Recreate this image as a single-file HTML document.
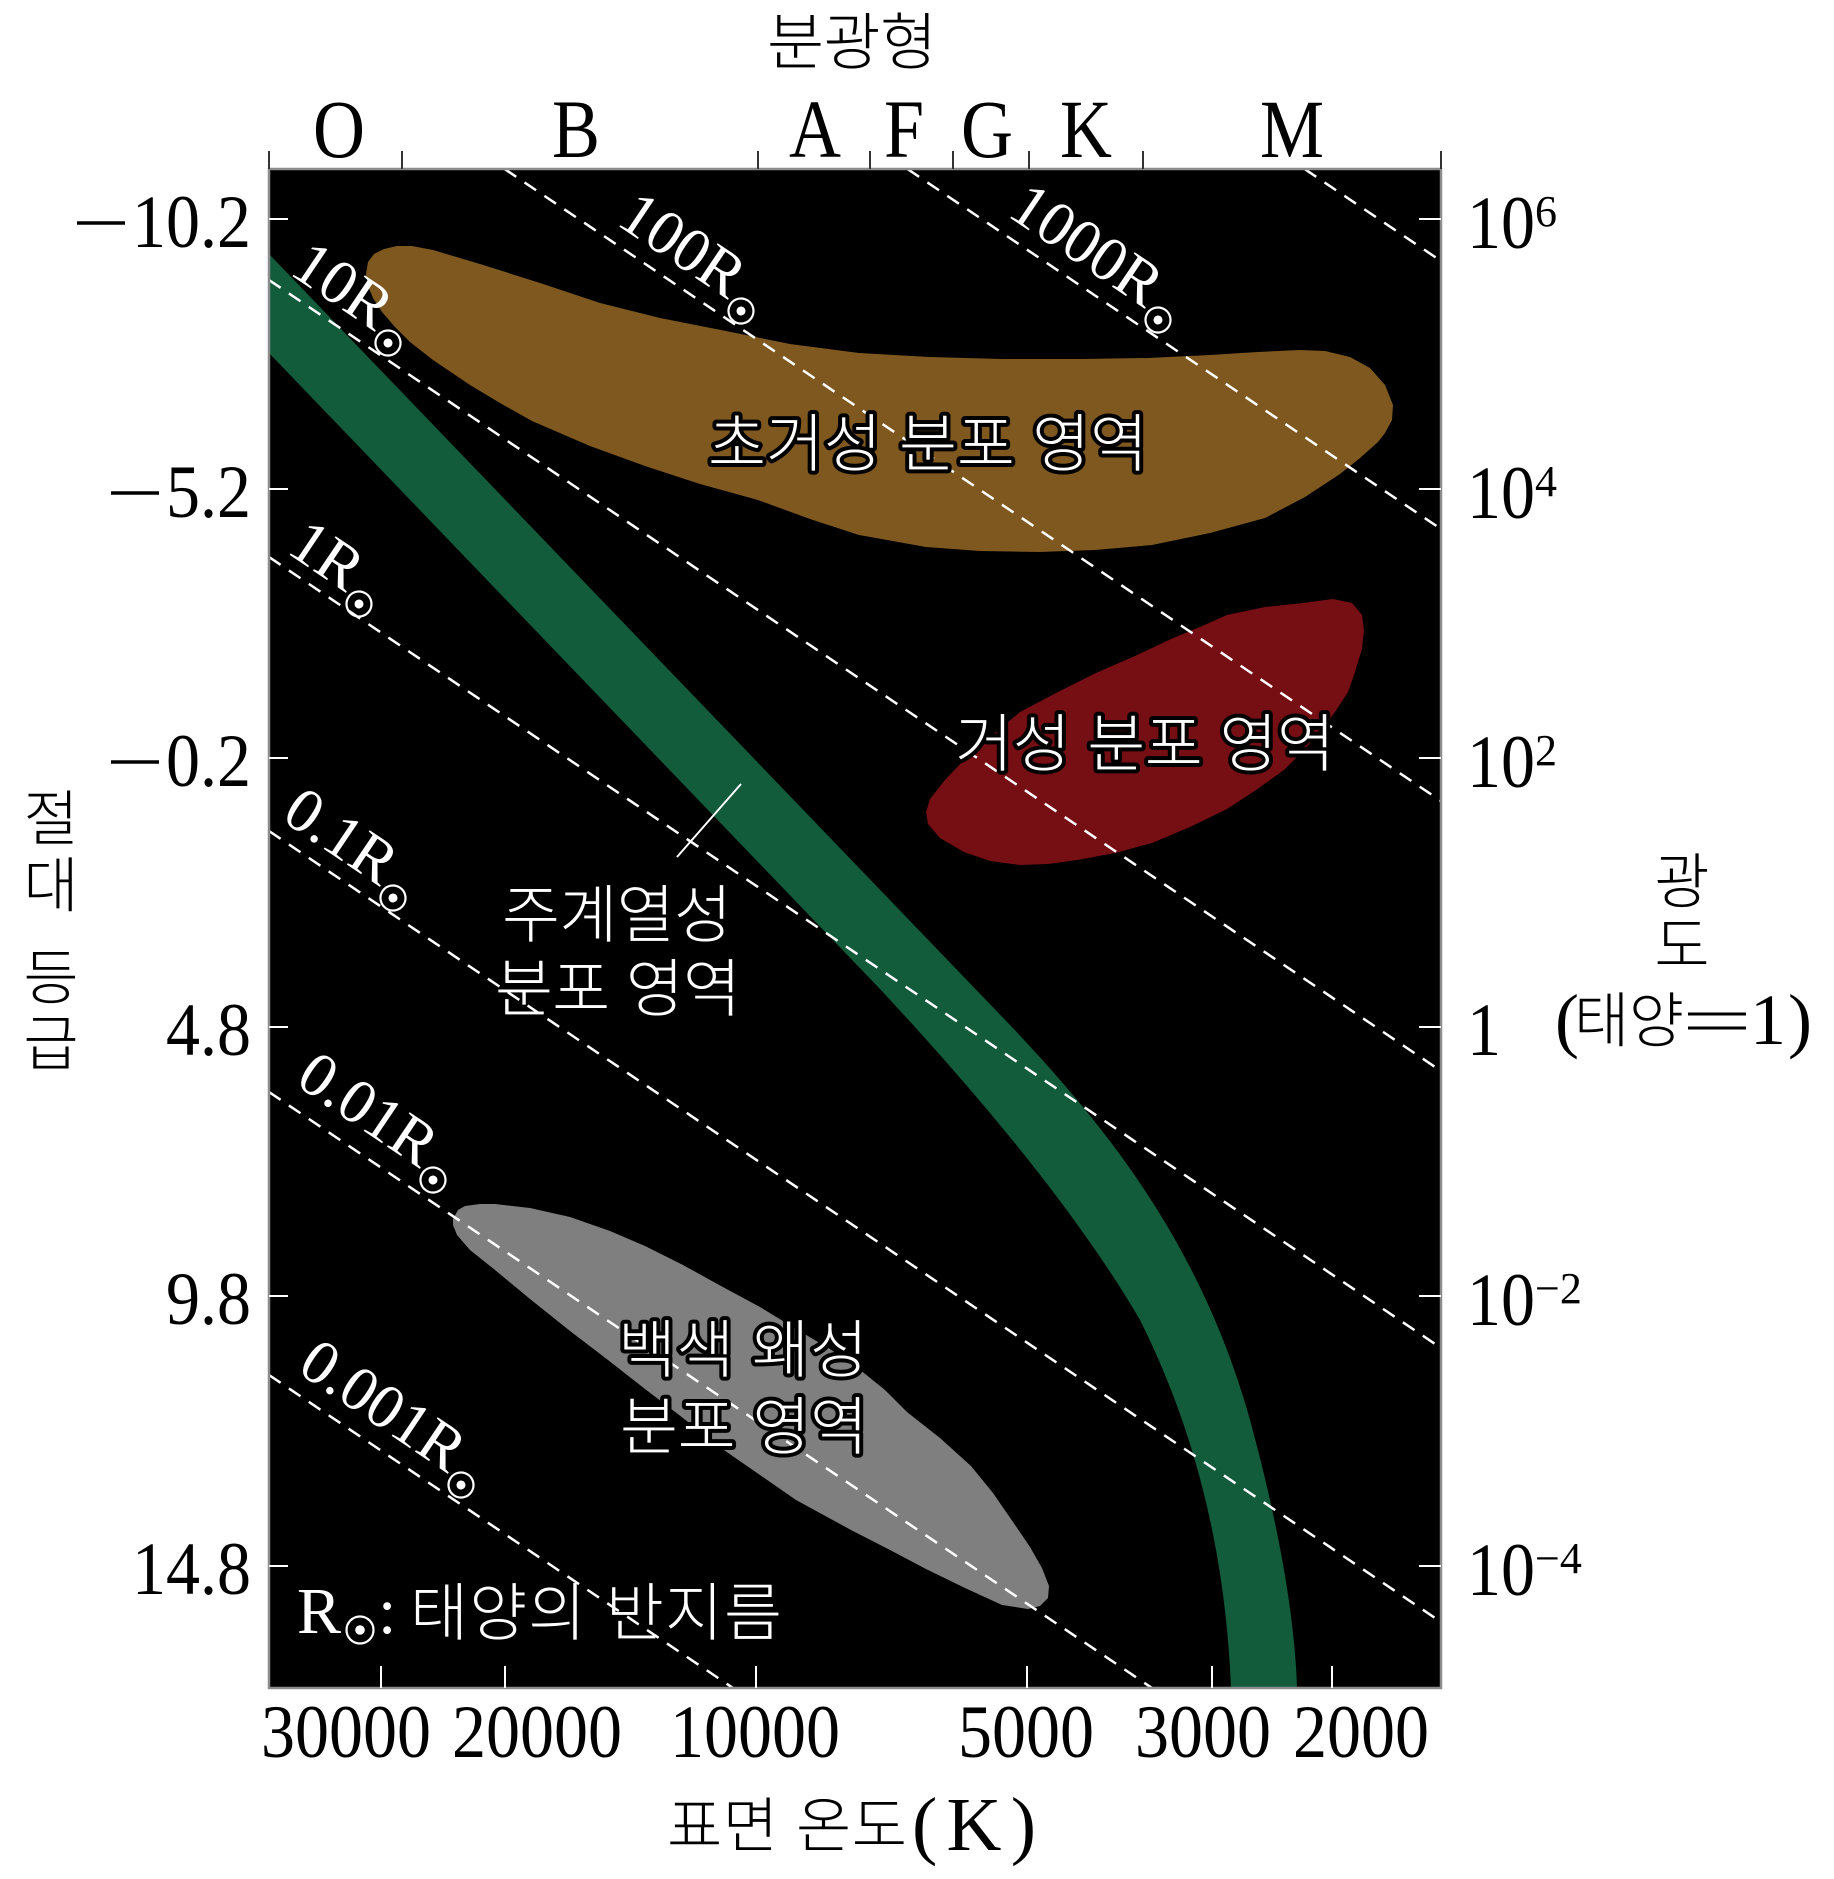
<!DOCTYPE html>
<html><head><meta charset="utf-8">
<style>
html,body{margin:0;padding:0;background:#fff;width:1834px;height:1879px;overflow:hidden;}
svg{display:block;}
.ser{font-family:"Liberation Serif","DejaVu Serif",serif;}
.kr{font-family:"Liberation Sans","Noto Sans CJK KR","NanumGothic",sans-serif;font-weight:300;}
.ol{paint-order:stroke;stroke:#000;stroke-width:8;stroke-linejoin:round;}
</style></head>
<body>
<svg width="1834" height="1879" viewBox="0 0 1834 1879" xmlns="http://www.w3.org/2000/svg">
<defs><clipPath id="pc"><rect x="269" y="169" width="1172" height="1519"/></clipPath></defs>
<rect width="1834" height="1879" fill="#fff"/>
<rect x="269" y="169" width="1172" height="1519" fill="#000"/>

<g clip-path="url(#pc)">
  <path fill="#7f5820" d="M366,274 L368,262 L374,254 L384,249 L397,246 L412,246 L433,250 L480,264 L540,283 L600,303 L660,318 L721,330 L790,344 L859,353 L930,357 L1002,359 L1080,359 L1148,358 L1210,355 L1258,352 L1300,350 L1325,351 L1350,357 L1370,368 L1385,385 L1393,405 L1392,420 L1385,433 L1378,442 L1360,458 L1340,474 L1305,497 L1265,518 L1210,533 L1152,545 L1095,550 L1039,552 L980,551 L926,547 L859,535 L810,519 L758,500 L700,484 L645,466 L590,446 L532,421 L500,403 L470,385 L433,360 L410,342 L395,327 L382,312 L373,298 L368,286 Z"/>
  <path fill="#760f13" d="M1333,599 L1352,603 L1362,615 L1364,630 L1362,649 L1355,672 L1348,692 L1335,712 L1321,731 L1303,751 L1284,770 L1256,790 L1227,809 L1190,827 L1152,843 L1115,853 L1077,860 L1048,864 L1020,865 L990,861 L964,852 L940,838 L928,824 L926,812 L930,799 L945,780 L964,760 L990,737 L1020,712 L1058,692 L1096,673 L1135,656 L1171,639 L1200,627 L1227,615 L1265,607 L1303,603 Z"/>
  <path fill="#7f7f7f" d="M453,1219 L458,1210 L465,1206 L480,1204 L495,1204 L530,1208 L570,1217 L610,1231 L645,1246 L683,1265 L721,1286 L760,1307 L796,1329 L830,1349 L859,1369 L885,1390 L907,1412 L940,1438 L971,1466 L993,1493 L1013,1522 L1030,1547 L1042,1568 L1049,1586 L1048,1598 L1040,1606 L1028,1609 L1002,1605 L965,1588 L926,1569 L890,1550 L851,1530 L796,1500 L760,1475 L721,1448 L683,1418 L645,1389 L608,1360 L570,1331 L530,1299 L495,1270 L470,1250 L457,1235 L453,1225 Z"/>
  <path fill="#125b3b" d="M269,254 L1010,1025 C1100,1120 1200,1240 1250,1420 C1280,1530 1295,1620 1297,1688 L1231,1688 C1225,1540 1190,1420 1140,1320 C1070,1200 960,1075 880,989 L269,353 Z"/>
  <g stroke="#fff" stroke-width="2.5" stroke-dasharray="14 10">
    <line x1="1304.6" y1="169" x2="1441" y2="261"/>
    <line x1="907.5" y1="169" x2="1441" y2="529"/>
    <line x1="504.6" y1="169" x2="1441" y2="801"/>
    <line x1="269" y1="280" x2="1441" y2="1071"/>
    <line x1="269" y1="557" x2="1441" y2="1348"/>
    <line x1="269" y1="831" x2="1441" y2="1622"/>
    <line x1="269" y1="1092" x2="1152" y2="1688"/>
    <line x1="269" y1="1375" x2="733" y2="1688"/>
  </g>
</g>

<g class="ser" fill="#fff" font-size="63">
  <g transform="translate(388,343) rotate(34)"><text x="-17" y="-2" text-anchor="end">10R</text><circle r="12.5" fill="none" stroke="#fff" stroke-width="2.2"/><circle r="4.5"/></g>
  <g transform="translate(741,311) rotate(34)"><text x="-17" y="-2" text-anchor="end">100R</text><circle r="12.5" fill="none" stroke="#fff" stroke-width="2.2"/><circle r="4.5"/></g>
  <g transform="translate(1158,320) rotate(34)"><text x="-17" y="-2" text-anchor="end">1000R</text><circle r="12.5" fill="none" stroke="#fff" stroke-width="2.2"/><circle r="4.5"/></g>
  <g transform="translate(359,604) rotate(34)"><text x="-17" y="-2" text-anchor="end">1R</text><circle r="12.5" fill="none" stroke="#fff" stroke-width="2.2"/><circle r="4.5"/></g>
  <g transform="translate(393,898) rotate(34)"><text x="-17" y="-2" text-anchor="end">0.1R</text><circle r="12.5" fill="none" stroke="#fff" stroke-width="2.2"/><circle r="4.5"/></g>
  <g transform="translate(433,1180) rotate(34)"><text x="-17" y="-2" text-anchor="end">0.01R</text><circle r="12.5" fill="none" stroke="#fff" stroke-width="2.2"/><circle r="4.5"/></g>
  <g transform="translate(461,1485) rotate(34)"><text x="-17" y="-2" text-anchor="end">0.001R</text><circle r="12.5" fill="none" stroke="#fff" stroke-width="2.2"/><circle r="4.5"/></g>
</g>

<g class="kr" fill="#fff" font-size="63" text-anchor="middle">
  <text class="ol" x="928" y="466" textLength="440">초거성 분포 영역</text>
  <text class="ol" x="1145" y="766" textLength="380">거성 분포 영역</text>
  <text x="617" y="937" textLength="230">주계열성</text>
  <text x="618" y="1011" textLength="246">분포 영역</text>
  <text class="ol" x="743" y="1372" textLength="250">백색 왜성</text>
  <text class="ol" x="744" y="1449" textLength="248">분포 영역</text>
</g>
<line x1="677" y1="857" x2="741" y2="784" stroke="#fff" stroke-width="2"/>

<text class="ser" x="297" y="1633" font-size="66" fill="#fff">R</text>
<circle cx="360" cy="1630" r="13.5" fill="none" stroke="#fff" stroke-width="2.2"/>
<circle cx="360" cy="1630" r="4.8" fill="#fff"/>
<text class="ser" x="378" y="1633" font-size="66" fill="#fff">:</text>
<text class="kr" x="410" y="1635" font-size="63" fill="#fff" textLength="372">태양의 반지름</text>

<rect x="269" y="169" width="1172" height="1519" fill="none" stroke="#8c8c8c" stroke-width="2.5"/>

<g stroke="#fff" stroke-width="2">
  <line x1="269" y1="219" x2="288" y2="219"/><line x1="269" y1="489" x2="288" y2="489"/>
  <line x1="269" y1="758" x2="288" y2="758"/><line x1="269" y1="1027" x2="288" y2="1027"/>
  <line x1="269" y1="1296" x2="288" y2="1296"/><line x1="269" y1="1566" x2="288" y2="1566"/>
  <line x1="1419" y1="219" x2="1441" y2="219"/><line x1="1419" y1="489" x2="1441" y2="489"/>
  <line x1="1419" y1="758" x2="1441" y2="758"/><line x1="1419" y1="1027" x2="1441" y2="1027"/>
  <line x1="1419" y1="1296" x2="1441" y2="1296"/><line x1="1419" y1="1566" x2="1441" y2="1566"/>
  <line x1="381" y1="1666" x2="381" y2="1688"/><line x1="505" y1="1666" x2="505" y2="1688"/>
  <line x1="756" y1="1666" x2="756" y2="1688"/><line x1="1027" y1="1666" x2="1027" y2="1688"/>
  <line x1="1212" y1="1666" x2="1212" y2="1688"/><line x1="1332" y1="1666" x2="1332" y2="1688"/>
</g>
<g stroke="#333" stroke-width="2">
  <line x1="269" y1="151" x2="269" y2="169"/><line x1="402" y1="151" x2="402" y2="169"/>
  <line x1="758" y1="151" x2="758" y2="169"/><line x1="870" y1="151" x2="870" y2="169"/>
  <line x1="953" y1="151" x2="953" y2="169"/><line x1="1029" y1="151" x2="1029" y2="169"/>
  <line x1="1143" y1="151" x2="1143" y2="169"/><line x1="1441" y1="151" x2="1441" y2="169"/>
</g>

<g class="ser" font-size="72" fill="#000" text-anchor="middle">
  <text transform="translate(339,157) scale(1,1.15)">O</text>
  <text transform="translate(576,157) scale(1,1.15)">B</text>
  <text transform="translate(815,157) scale(1,1.15)">A</text>
  <text transform="translate(904,157) scale(1,1.15)">F</text>
  <text transform="translate(987,157) scale(1,1.15)">G</text>
  <text transform="translate(1086,157) scale(1,1.15)">K</text>
  <text transform="translate(1292,157) scale(1,1.15)">M</text>
</g>

<g class="ser" font-size="68" fill="#000" text-anchor="end">
  <text transform="translate(251,247) scale(1,1.1)">10.2</text>
  <text transform="translate(251,517) scale(1,1.1)">5.2</text>
  <text transform="translate(251,786) scale(1,1.1)">0.2</text>
  <text transform="translate(251,1055) scale(1,1.1)">4.8</text>
  <text transform="translate(251,1324) scale(1,1.1)">9.8</text>
  <text transform="translate(251,1594) scale(1,1.1)">14.8</text>
</g>
<g stroke="#000" stroke-width="3.5">
  <line x1="77" y1="223" x2="125" y2="223"/>
  <line x1="111" y1="493" x2="159" y2="493"/>
  <line x1="111" y1="762" x2="159" y2="762"/>
</g>

<g class="ser" fill="#000">
  <g font-size="68">
    <text transform="translate(1467,248) scale(1,1.1)">10</text>
    <text transform="translate(1467,518) scale(1,1.1)">10</text>
    <text transform="translate(1467,787) scale(1,1.1)">10</text>
    <text transform="translate(1467,1055) scale(1,1.1)">1</text>
    <text transform="translate(1467,1325) scale(1,1.1)">10</text>
    <text transform="translate(1467,1595) scale(1,1.1)">10</text>
  </g>
  <g font-size="44">
    <text x="1535" y="226">6</text>
    <text x="1535" y="496">4</text>
    <text x="1535" y="765">2</text>
    <text x="1535" y="1303">−2</text>
    <text x="1535" y="1573">−4</text>
  </g>
</g>

<g class="ser" font-size="68" fill="#000" text-anchor="middle">
  <text transform="translate(346,1757) scale(1,1.1)">30000</text>
  <text transform="translate(537,1757) scale(1,1.1)">20000</text>
  <text transform="translate(755,1757) scale(1,1.1)">10000</text>
  <text transform="translate(1026,1757) scale(1,1.1)">5000</text>
  <text transform="translate(1203,1757) scale(1,1.1)">3000</text>
  <text transform="translate(1361,1757) scale(1,1.1)">2000</text>
</g>

<text class="kr" x="852" y="64" font-size="62" fill="#000" text-anchor="middle" textLength="170">분광형</text>
<text class="kr" x="667" y="1847" font-size="60" fill="#000" textLength="240">표면 온도</text>
<text class="ser" x="912" y="1850" font-size="76" fill="#000" textLength="124">(K)</text>

<g class="kr" font-size="60" fill="#000" text-anchor="middle">
  <text x="51" y="840">절</text>
  <text x="51" y="907">대</text>
  <text x="51" y="999">등</text>
  <text x="51" y="1065">급</text>
  <text x="1682" y="903">광</text>
  <text x="1682" y="967">도</text>
</g>
<text class="ser" x="1555" y="1044" font-size="72" fill="#000">(</text>
<text class="kr" x="1574" y="1042" font-size="60" fill="#000" textLength="110">태양</text>
<g stroke="#000" stroke-width="3">
  <line x1="1688" y1="1014" x2="1746" y2="1014"/>
  <line x1="1688" y1="1028" x2="1746" y2="1028"/>
</g>
<text class="ser" x="1750" y="1044" font-size="72" fill="#000">1</text>
<text class="ser" x="1788" y="1044" font-size="72" fill="#000">)</text>
</svg>
</body></html>
